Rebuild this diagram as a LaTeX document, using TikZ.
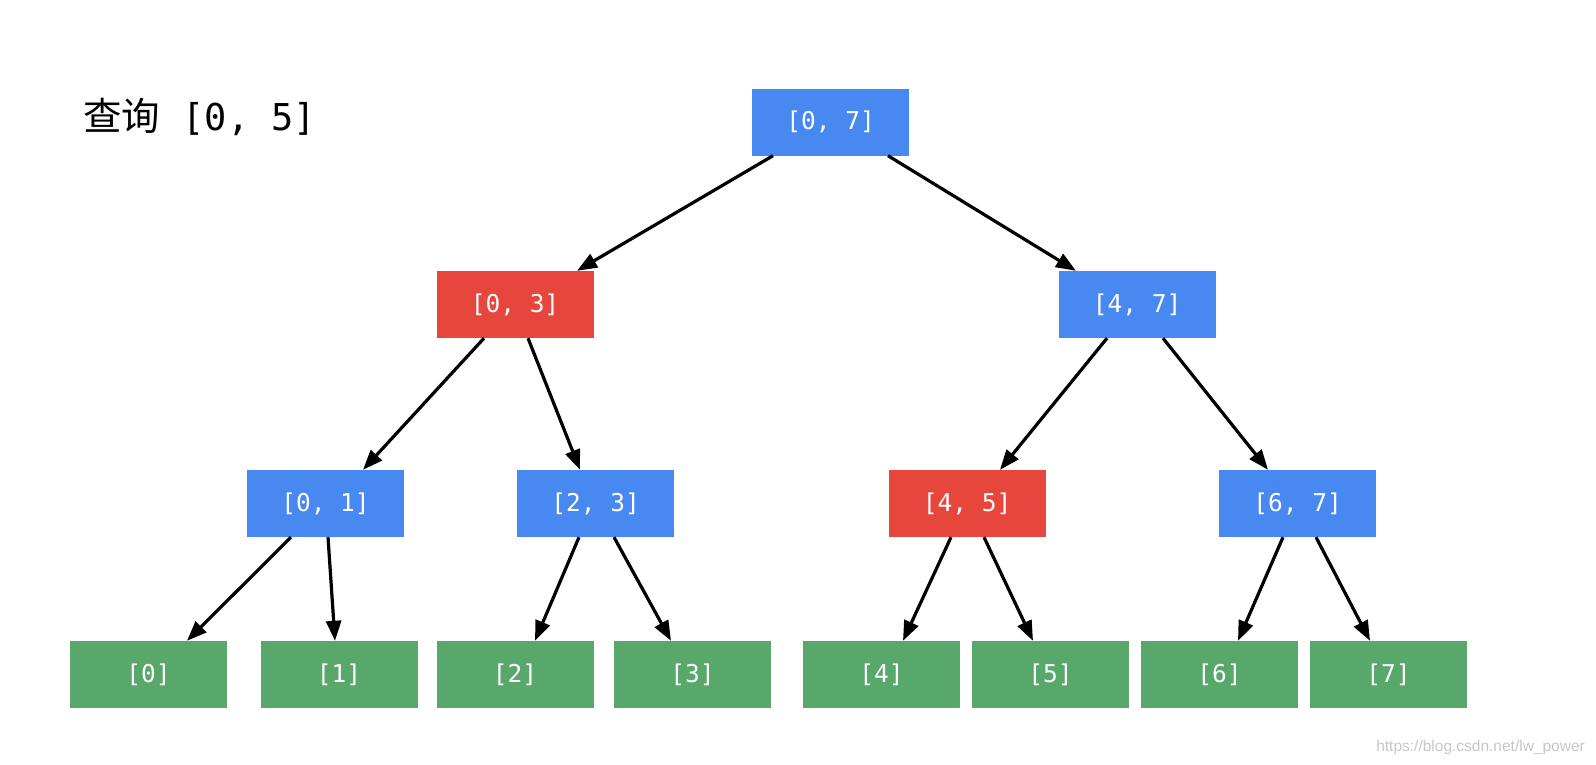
\documentclass[tikz,border=0pt]{standalone}
\usepackage{fontspec}
\usetikzlibrary{arrows.meta,calc}
\newfontfamily\cjkfont{Noto Sans CJK SC}
\newfontfamily\monofont{DejaVu Sans Mono}
\newfontfamily\wmfont{Liberation Sans}
\definecolor{nblue}{RGB}{72,137,241}
\definecolor{nred}{RGB}{231,70,61}
\definecolor{ngreen}{RGB}{88,168,108}
\tikzset{
  box/.style={minimum width=157pt, minimum height=67pt, inner sep=0pt, text=white,
    font=\monofont\fontsize{24.5}{28}\selectfont},
  bluebox/.style={box, fill=nblue},
  redbox/.style={box, fill=nred},
  leafbox/.style={box, fill=ngreen},
  arr/.style={line width=3.2pt, -{Triangle[length=20pt,width=15pt]}}
}
\begin{document}
\begin{tikzpicture}[x=1pt,y=-1pt]
\useasboundingbox (0,0) rectangle (1596,764);
% title
\node[anchor=base west, inner sep=0pt, font=\monofont\fontsize{37}{40}\selectfont] (title) at (83,130) {{\cjkfont\fontsize{38.5}{40}\selectfont 查询}~[0, 5]};
% nodes
\node[bluebox] (root) at (830.5,122) {[0, 7]};
\node[redbox]  (n03) at (515,304.5) {[0, 3]};
\node[bluebox] (n47) at (1137,304.5) {[4, 7]};
\node[bluebox] (n01) at (325.5,503.5) {[0, 1]};
\node[bluebox] (n23) at (595.5,503.5) {[2, 3]};
\node[redbox]  (n45) at (967,503.5) {[4, 5]};
\node[bluebox] (n67) at (1297.5,503.5) {[6, 7]};
\node[leafbox] (l0) at (148.5,674.5) {[0]};
\node[leafbox] (l1) at (339,674.5) {[1]};
\node[leafbox] (l2) at (515,674.5) {[2]};
\node[leafbox] (l3) at (692.5,674.5) {[3]};
\node[leafbox] (l4) at (881.5,674.5) {[4]};
\node[leafbox] (l5) at (1050.5,674.5) {[5]};
\node[leafbox] (l6) at (1219.5,674.5) {[6]};
\node[leafbox] (l7) at (1388.5,674.5) {[7]};
% connectors
\draw[arr] ([xshift=-57.5]root.south) -- ([xshift=62]n03.north);
\draw[arr] ([xshift=57.5]root.south) -- ([xshift=-61]n47.north);
\draw[arr] ([xshift=-31]n03.south) -- ([xshift=37.5]n01.north);
\draw[arr] ([xshift=13]n03.south) -- ([xshift=-15.5]n23.north);
\draw[arr] ([xshift=-30]n47.south) -- ([xshift=33]n45.north);
\draw[arr] ([xshift=26]n47.south) -- ([xshift=-29.5]n67.north);
\draw[arr] ([xshift=-34.5]n01.south) -- ([xshift=38.5]l0.north);
\draw[arr] ([xshift=2.5]n01.south) -- ([xshift=-4]l1.north);
\draw[arr] ([xshift=-16.5]n23.south) -- ([xshift=20]l2.north);
\draw[arr] ([xshift=18.5]n23.south) -- ([xshift=-21.5]l3.north);
\draw[arr] ([xshift=-16]n45.south) -- ([xshift=21.5]l4.north);
\draw[arr] ([xshift=17]n45.south) -- ([xshift=-17.5]l5.north);
\draw[arr] ([xshift=-14.5]n67.south) -- ([xshift=18.5]l6.north);
\draw[arr] ([xshift=18.5]n67.south) -- ([xshift=-18.5]l7.north);
% watermark
\node[anchor=base east, inner sep=0pt, text=black!22, font=\wmfont\fontsize{15.5}{18}\selectfont] (wm) at (1585,751) {https://blog.csdn.net/lw\_power};
\end{tikzpicture}
\end{document}
